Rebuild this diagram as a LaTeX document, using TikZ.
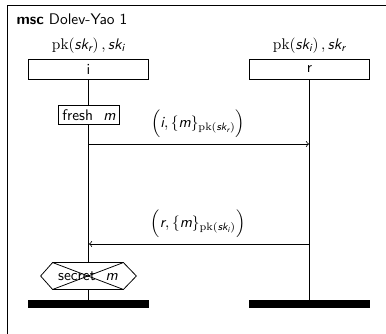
\documentclass[tikz,border=0pt]{standalone}
\usepackage{amsmath}
\usepackage{tikz}
\usetikzlibrary{calc}
\renewcommand{\familydefault}{\sfdefault}
% sans italic names inside formulas
\newcommand{\sv}[1]{\textsf{\itshape #1}}
\newcommand{\pk}{\mathrm{pk}}
\tikzset{
    instbox/.style={draw, fill=white, minimum width=78pt, minimum height=13pt, inner sep=0pt},
    endbar/.style={fill=black, draw=none, minimum width=78.5pt, minimum height=5.2pt, inner sep=0pt},
    actbox/.style={draw, fill=white, minimum height=12pt, inner sep=2.5pt},
    condbox/.style={fill=white, minimum width=45.5pt, minimum height=17pt, inner sep=0pt},
    msg/.style={->, line width=0.5pt}
}

\begin{document}
\begin{tikzpicture}[x=0.65pt,y=-0.65pt,line width=0.5pt]
		
		\clip (0,0) rectangle (386,333);
		\useasboundingbox (0,0) rectangle (386,333);
		
		% Frame and title
		\draw (7,5) rectangle (400,350);
		\node [anchor=west] (title) at (11,19) {\textbf{msc} Dolev-Yao 1};
		
		% Instances i and r
		\node [instbox] (i) at (88.5,69) {i};
		\node [instbox] (r) at (309.5,69) {r};
		\node [above=0pt] (ikeys) at (i.north) {$\pk(\sv{sk}_{\sv{r}})\,,\sv{sk}_{\sv{i}}$};
		\node [above=0pt] (rkeys) at (r.north) {$\pk(\sv{sk}_{\sv{i}})\,,\sv{sk}_{\sv{r}}$};
		
		% Instance ends
		\node [endbar] (iend) at (88.5,304) {};
		\node [endbar] (rend) at (309.5,304) {};
		
		% Life lines
		\draw (i.south) -- (iend.north);
		\draw (r.south) -- (rend.north);
		
		% Action: fresh m
		\node [actbox] (fresh) at (89,115) {fresh \ $\sv{m}$};
		
		% Message i -> r
		\coordinate (m1a) at (89,144);
		\coordinate (m1b) at (309,144);
		\draw [msg] (m1a) -- (m1b);
		\node (m1lab) at (198,124) {$\Big(\sv{i}, \{\sv{m}\}_{\pk(\sv{sk}_{\sv{r}})}\Big)$};
		
		% Message r -> i
		\coordinate (m2a) at (309,244);
		\coordinate (m2b) at (89,244);
		\draw [msg] (m2a) -- (m2b);
		\node (m2lab) at (198,224) {$\Big(\sv{r}, \{\sv{m}\}_{\pk(\sv{sk}_{\sv{i}})}\Big)$};
		
		% Condition: secret m (crossed out)
		\node [condbox] (sec) at (88,276) {secret \ $\sv{m}$};
		\draw (sec.north west) -- (sec.north east) -- ($(sec.east)+(13,0)$) -- (sec.south east)
			-- (sec.south west) -- ($(sec.west)+(-12,0)$) -- cycle;
		\draw (sec.north west) -- (sec.south east);
		\draw (sec.north east) -- (sec.south west);
		
	\end{tikzpicture}
\end{document}
